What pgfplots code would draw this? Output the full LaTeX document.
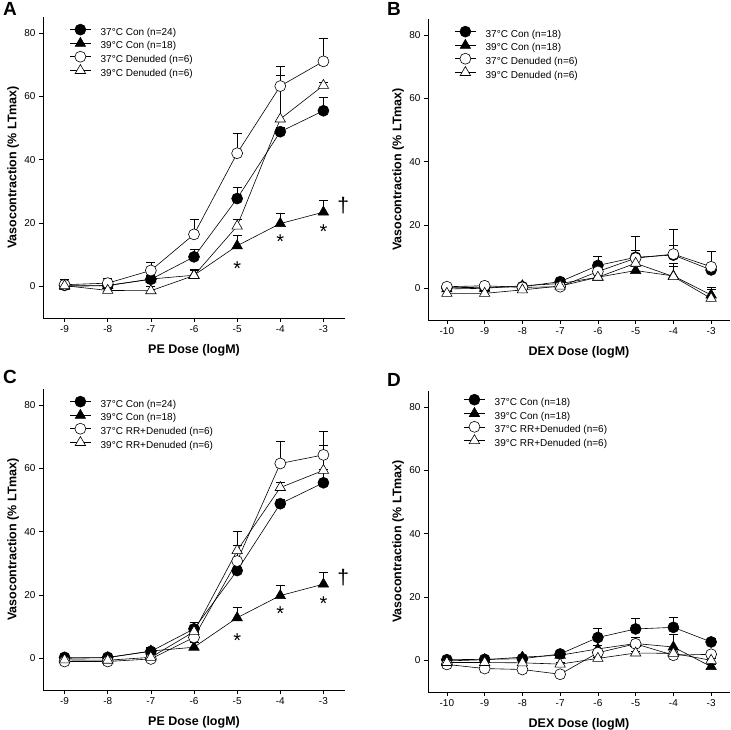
\documentclass[border=0pt]{standalone}
\usepackage{fontspec}
\setmainfont{Liberation Sans}
\usepackage{pgfplots}
\pgfplotsset{compat=1.18}

% shared look of the four panels
\pgfplotsset{
  panel/.style={
    scale only axis, width=302pt, height=301pt,
    font=\fontsize{10}{12}\selectfont,
    axis x line*=bottom, axis y line*=left,
    ymin=-10, ymax=85, ytick={0,20,40,60,80},
    tick align=outside, major tick length=4pt,
    tick style={black, line width=0.6pt},
    axis line style={line width=0.6pt},
    /pgf/number format/assume math mode=true,
    every tick label/.append style={font=\fontsize{10}{12}\selectfont},
    ylabel={Vasocontraction (\% LTmax)},
    every axis y label/.style={at={(axis description cs:-0.099,0.5)}, rotate=90, anchor=center,
      font=\fontsize{12.5}{15}\selectfont\bfseries},
    every axis x label/.style={at={(axis description cs:0.5,-0.106)}, anchor=center,
      font=\fontsize{12.5}{15}\selectfont\bfseries},
    clip=false,
    legend cell align=left,
    legend style={draw=none, fill=none, at={(0.089,0.977)}, anchor=north west,
      inner sep=0pt, row sep=-2.7pt, column sep=9pt,
      font=\fontsize{10}{12}\selectfont,
      nodes={inner sep=0pt, text height=9pt, text depth=5pt}},
    legend image code/.code={\draw[mark repeat=2,mark phase=2,yshift=3.5pt] plot coordinates {(0pt,0pt)(10pt,0pt)(21pt,0pt)};},
  },
  eb/.style={error bars/y dir=plus, error bars/y explicit,
    error bars/error mark options={rotate=90, black, mark size=4.5pt, line width=0.6pt, solid},
    error bars/error bar style={black, line width=0.6pt}},
  s1/.style={eb, black, line width=0.6pt, mark=*, mark size=5.5pt, mark options={fill=black}},
  s2/.style={eb, black, line width=0.6pt, mark=triangle*, mark size=6pt, mark options={fill=black}},
  s3/.style={eb, black, line width=0.6pt, mark=*, mark size=5.5pt, mark options={fill=white}},
  s4/.style={eb, black, line width=0.6pt, mark=triangle*, mark size=6pt, mark options={fill=white}},
}
\tikzset{sig/.style={font=\fontsize{20}{20}\selectfont, inner sep=0pt},
  dag/.style={font=\fontsize{21}{21}\selectfont, inner sep=0pt},
  panlab/.style={anchor=north west, inner sep=0pt, font=\fontsize{19}{19}\selectfont\bfseries}}

\begin{document}
\begin{tikzpicture}
\path[use as bounding box] (0,0) rectangle (731pt,730pt);

% ---------------- A ----------------
\begin{axis}[panel, at={(43pt,412pt)}, anchor=south west,
  xmin=-9.5, xmax=-2.5, xtick={-9,...,-3}, xlabel={PE Dose (logM)}]
\addplot[s1] table[x=x, y=y, y error=e] {
x y e
-9 0.3 1.0
-8 0.3 1.0
-7 2.2 1.2
-6 9.3 2.3
-5 27.7 3.6
-4 48.8 1.5
-3 55.4 4.3
};
\addplot[s2] table[x=x, y=y, y error=e] {
x y e
-9 0.0 1.0
-8 0.2 1.0
-7 2.3 1.0
-6 3.5 1.5
-5 12.8 3.3
-4 19.8 3.4
-3 23.4 3.8
};
\addplot[s3] table[x=x, y=y, y error=e] {
x y e
-9 0.5 1.8
-8 1.0 1.6
-7 5.0 2.7
-6 16.4 4.9
-5 42.0 6.4
-4 63.2 6.3
-3 71.0 7.4
};
\addplot[s4] table[x=x, y=y, y error=e] {
x y e
-9 0.2 2.1
-8 -1.3 1.3
-7 -1.4 1.3
-6 3.4 2.1
-5 19.0 2.0
-4 52.8 13.7
-3 63.4 1.0
};
\legend{37°C Con (n=24), 39°C Con (n=18), 37°C Denuded (n=6), 39°C Denuded (n=6)}
\node[sig] at (axis cs:-5,5.6) {*};
\node[sig] at (axis cs:-4,14.0) {*};
\node[sig] at (axis cs:-3,17.4) {*};
\node[dag] at (axis cs:-2.54,25.5) {†};
\end{axis}
\node[panlab] at (3pt,728pt) {A};

% ---------------- B ----------------
\begin{axis}[panel, at={(428pt,410pt)}, anchor=south west,
  xmin=-10.5, xmax=-2.5, xtick={-10,...,-3}, xlabel={DEX Dose (logM)}]
\addplot[s1] table[x=x, y=y, y error=e] {
x y e
-10 0.2 0.5
-9 0.3 0.5
-8 0.5 0.5
-7 2.1 1.1
-6 7.2 2.8
-5 9.8 2.3
-4 10.5 3.2
-3 5.8 1.5
};
\addplot[s2] table[x=x, y=y, y error=e] {
x y e
-10 -0.2 0.5
-9 0.0 0.5
-8 0.8 0.8
-7 1.5 1.0
-6 3.5 1.0
-5 5.6 1.5
-4 3.9 4.0
-3 -2.1 2.4
};
\addplot[s3] table[x=x, y=y, y error=e] {
x y e
-10 0.5 0.5
-9 0.8 0.5
-8 0.3 0.5
-7 0.5 0.5
-6 5.3 1.5
-5 9.5 6.8
-4 10.8 7.8
-3 6.8 4.8
};
\addplot[s4] table[x=x, y=y, y error=e] {
x y e
-10 -1.6 0.5
-9 -1.6 0.5
-8 -0.5 0.5
-7 0.7 0.5
-6 3.5 1.0
-5 7.9 4.2
-4 3.7 3.3
-3 -3.2 2.9
};
\legend{37°C Con (n=18), 39°C Con (n=18), 37°C Denuded (n=6), 39°C Denuded (n=6)}
\end{axis}
\node[panlab] at (387pt,728pt) {B};

% ---------------- C ----------------
\begin{axis}[panel, at={(43pt,40pt)}, anchor=south west,
  xmin=-9.5, xmax=-2.5, xtick={-9,...,-3}, xlabel={PE Dose (logM)}]
\addplot[s1] table[x=x, y=y, y error=e] {
x y e
-9 0.3 1.0
-8 0.3 1.0
-7 2.2 1.2
-6 9.3 2.1
-5 27.7 3.6
-4 48.8 1.5
-3 55.4 4.3
};
\addplot[s2] table[x=x, y=y, y error=e] {
x y e
-9 0.0 1.0
-8 0.2 1.0
-7 2.3 1.0
-6 3.5 1.5
-5 12.8 3.3
-4 19.8 3.4
-3 23.4 3.8
};
\addplot[s3] table[x=x, y=y, y error=e] {
x y e
-9 -1.0 0.5
-8 -1.0 0.5
-7 -0.2 0.8
-6 6.6 1.5
-5 30.7 5.1
-4 61.5 7.1
-3 64.2 7.6
};
\addplot[s4] table[x=x, y=y, y error=e] {
x y e
-9 -0.5 0.5
-8 -0.6 0.5
-7 0.3 0.8
-6 8.4 3.0
-5 34.0 6.0
-4 53.9 1.5
-3 59.3 7.8
};
\legend{37°C Con (n=24), 39°C Con (n=18), 37°C RR+Denuded (n=6), 39°C RR+Denuded (n=6)}
\node[sig] at (axis cs:-5,5.6) {*};
\node[sig] at (axis cs:-4,14.0) {*};
\node[sig] at (axis cs:-3,17.4) {*};
\node[dag] at (axis cs:-2.54,25.5) {†};
\end{axis}
\node[panlab] at (3pt,360pt) {C};

% ---------------- D ----------------
\begin{axis}[panel, at={(428pt,38pt)}, anchor=south west,
  xmin=-10.5, xmax=-2.5, xtick={-10,...,-3}, xlabel={DEX Dose (logM)},
  legend style={at={(0.119,0.99)}}]
\addplot[s1] table[x=x, y=y, y error=e] {
x y e
-10 0.2 0.5
-9 0.3 0.5
-8 0.5 0.5
-7 2.0 0.8
-6 7.2 3.0
-5 9.9 3.5
-4 10.4 3.3
-3 5.8 1.0
};
\addplot[s2] table[x=x, y=y, y error=e] {
x y e
-10 -0.2 0.5
-9 0.2 0.5
-8 1.0 0.5
-7 1.6 0.5
-6 3.6 1.0
-5 5.3 1.0
-4 4.2 4.0
-3 -2.0 0.8
};
\addplot[s3] table[x=x, y=y, y error=e] {
x y e
-10 -1.3 0.5
-9 -2.6 0.5
-8 -2.9 0.5
-7 -4.4 0.5
-6 2.4 1.0
-5 5.2 2.0
-4 1.6 0.5
-3 1.9 0.5
};
\addplot[s4] table[x=x, y=y, y error=e] {
x y e
-10 -0.7 0.5
-9 -0.7 0.5
-8 -0.8 0.5
-7 -1.2 0.5
-6 0.6 0.5
-5 2.3 0.5
-4 2.2 0.5
-3 0.0 0.5
};
\legend{37°C Con (n=18), 39°C Con (n=18), 37°C RR+Denuded (n=6), 39°C RR+Denuded (n=6)}
\end{axis}
\node[panlab] at (387pt,357pt) {D};
\end{tikzpicture}
\end{document}
